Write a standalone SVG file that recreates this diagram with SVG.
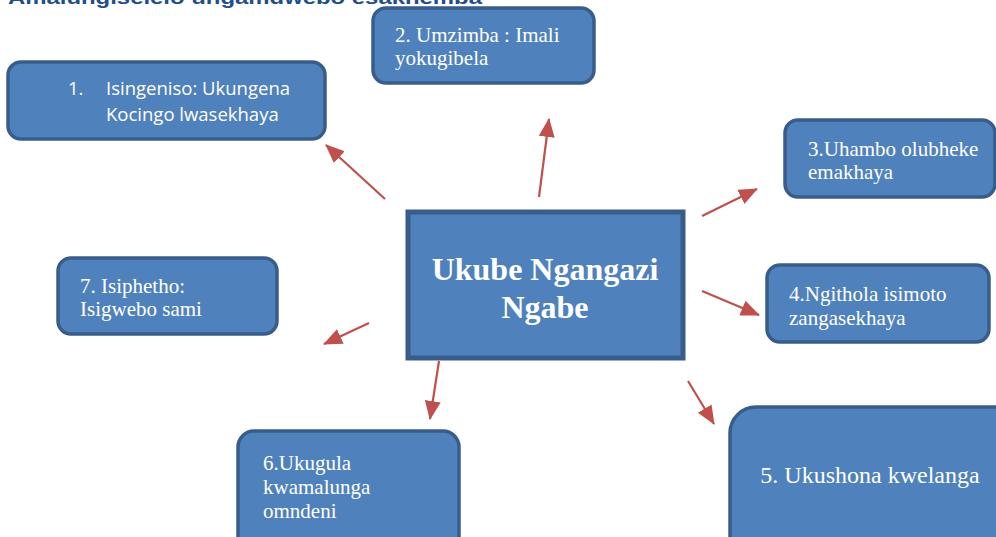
<svg xmlns="http://www.w3.org/2000/svg" width="996" height="537" viewBox="0 0 996 537">
<style>
.box{fill:#4F81BD;stroke:#385D8A;stroke-width:3.5}
.center{fill:#4F81BD;stroke:#385D8A;stroke-width:5}
.serif{font-family:"Liberation Serif","Times New Roman",serif;fill:#fff;font-size:21px}
.big{font-size:32px;font-weight:bold}
.mid{font-size:24px}
.sans{font-family:"Open Sans","Liberation Sans",sans-serif;fill:#fff;font-size:18.5px}
.title{font-family:"Liberation Sans",Arial,sans-serif;font-weight:bold;font-size:19px;fill:#1F4E8C}
.arrow{stroke:#C0504D;stroke-width:2.2;fill:none;marker-end:url(#ah)}
</style>
<defs>
<marker id="ah" markerUnits="userSpaceOnUse" markerWidth="20" markerHeight="18" viewBox="0 0 20 18" refX="18" refY="9" orient="auto">
<path d="M0,1 L19,9 L0,17 Z" fill="#C0504D"/>
</marker>
</defs>
<rect width="996" height="537" fill="#fff"/>
<text class="title" x="8" y="4" textLength="474" lengthAdjust="spacingAndGlyphs">Amalungiselelo ungamdwebo esakhemba</text>
<g id="connectors">
<line class="arrow" x1="385" y1="199" x2="326" y2="145"/>
<line class="arrow" x1="539" y1="197" x2="549" y2="119"/>
<line class="arrow" x1="702" y1="216" x2="757" y2="189"/>
<line class="arrow" x1="702" y1="291" x2="759" y2="315"/>
<line class="arrow" x1="688" y1="381" x2="714" y2="424"/>
<line class="arrow" x1="439" y1="361" x2="430" y2="419"/>
<line class="arrow" x1="369" y1="323" x2="324" y2="344"/>
</g>
<g id="node-center">
<rect class="center" x="408" y="212" width="275" height="146"/>
<text class="serif big" x="545" y="280" text-anchor="middle">Ukube Ngangazi</text>
<text class="serif big" x="545" y="318" text-anchor="middle">Ngabe</text>
</g>
<g id="node-1">
<rect class="box" x="8" y="62" width="317" height="77" rx="13"/>
<text class="sans" x="68" y="95">1.</text>
<text class="sans" x="106" y="95">Isingeniso: Ukungena</text>
<text class="sans" x="106" y="121">Kocingo lwasekhaya</text>
</g>
<g id="node-2">
<rect class="box" x="373" y="8" width="221" height="75" rx="13"/>
<text class="serif" x="395" y="42">2. Umzimba : Imali</text>
<text class="serif" x="395" y="65">yokugibela</text>
</g>
<g id="node-3">
<rect class="box" x="785" y="120" width="210" height="77" rx="13"/>
<text class="serif" x="808" y="156">3.Uhambo olubheke</text>
<text class="serif" x="808" y="179">emakhaya</text>
</g>
<g id="node-4">
<rect class="box" x="767" y="265" width="222" height="77" rx="13"/>
<text class="serif" x="789" y="301">4.Ngithola isimoto</text>
<text class="serif" x="789" y="325">zangasekhaya</text>
</g>
<g id="node-5">
<rect class="box" x="730" y="407" width="290" height="160" rx="26"/>
<text class="serif mid" x="870" y="483" text-anchor="middle">5. Ukushona kwelanga</text>
</g>
<g id="node-6">
<rect class="box" x="238" y="431" width="221" height="130" rx="16"/>
<text class="serif" x="263" y="470">6.Ukugula</text>
<text class="serif" x="263" y="494">kwamalunga</text>
<text class="serif" x="263" y="518">omndeni</text>
</g>
<g id="node-7">
<rect class="box" x="58" y="258" width="219" height="76" rx="13"/>
<text class="serif" x="80" y="293">7. Isiphetho:</text>
<text class="serif" x="80" y="316">Isigwebo sami</text>
</g>
</svg>
